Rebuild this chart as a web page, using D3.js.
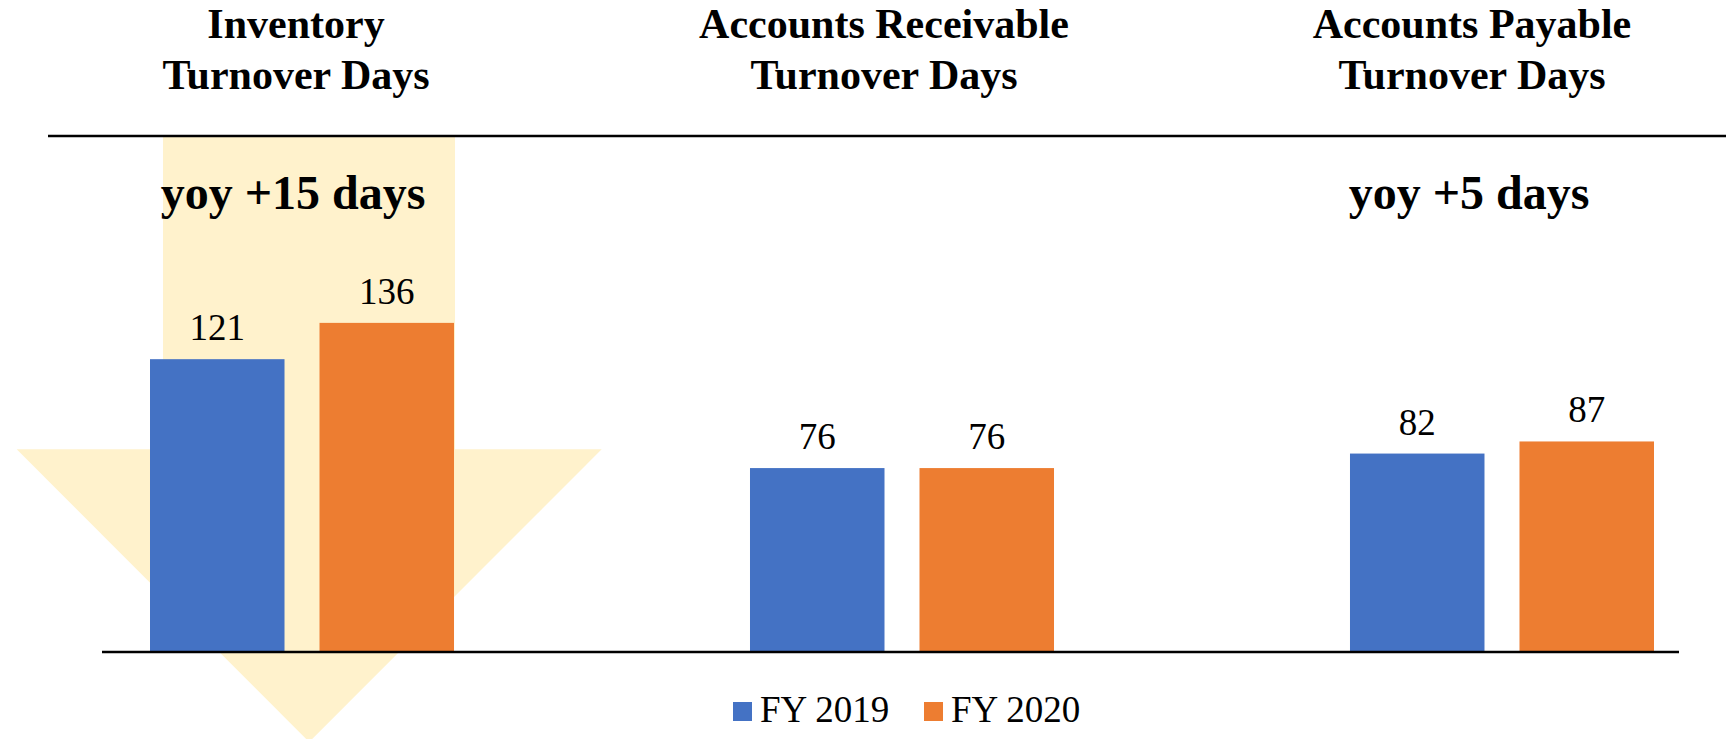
<!DOCTYPE html>
<html>
<head>
<meta charset="utf-8">
<script src="https://cdn.jsdelivr.net/npm/d3@7"></script>
<style>
  html, body { margin: 0; padding: 0; background: #fff; }
  svg { display: block; font-family: "Liberation Serif", "Times New Roman", serif; }
</style>
</head>
<body>
<div id="chart"></div>
<script>
// các nhóm chỉ tiêu và giá trị theo năm
const categories = ["Inventory", "Receivable", "Payable"];
const titleLines = [
  ["Inventory", "Turnover Days"],
  ["Accounts Receivable", "Turnover Days"],
  ["Accounts Payable", "Turnover Days"]
];
const seriesNames = ["FY 2019", "FY 2020"];
const fy2019 = [121, 76, 82];
const fy2020 = [136, 76, 87];
const yoyNotes = ["yoy +15 days", "", "yoy +5 days"];
const colors = ["#4472C4", "#ED7D31"];

(() => {
  const width = 1726, height = 739;
  const baseY = 652;

  const svg = d3.select("#chart").append("svg")
    .attr("width", width)
    .attr("height", height)
    .attr("viewBox", [0, 0, width, height]);

  const data = categories.map((c, i) => ({
    cat: c,
    values: [fy2019[i], fy2020[i]].map((v, j) => ({ s: seriesNames[j], v, j }))
  }));

  // scales
  const x0 = d3.scaleBand()
    .domain(categories)
    .range([150, 1654])
    .paddingInner(0.4933)
    .paddingOuter(0);

  const x1 = d3.scaleBand()
    .domain(seriesNames)
    .range([0, x0.bandwidth()])
    .paddingInner(0.2065)
    .paddingOuter(0);

  const y = d3.scaleLinear()
    .domain([0, 150])
    .range([baseY, baseY - 363]);

  const tx = d3.scalePoint()
    .domain(categories)
    .range([296, 1472]);

  // mũi tên nền vàng nhạt (chú thích)
  const arrow = svg.append("g").attr("fill", "#FFF2CC");
  arrow.append("rect")
    .attr("x", 163).attr("y", 137)
    .attr("width", 292).attr("height", 313);
  arrow.append("path")
    .attr("d", d3.line()([[16.7, 449.3], [601.7, 449.3], [309.2, 742]]) + "Z");

  // đường kẻ trên
  svg.append("line")
    .attr("x1", 48).attr("x2", width)
    .attr("y1", 136).attr("y2", 136)
    .attr("stroke", "#000").attr("stroke-width", 2.5);

  // tiêu đề từng nhóm
  const titles = svg.append("g")
    .attr("font-weight", "bold")
    .attr("font-size", 42)
    .attr("text-anchor", "middle");
  categories.forEach((c, i) => {
    titleLines[i].forEach((t, k) => {
      titles.append("text")
        .attr("x", tx(c))
        .attr("y", 38 + k * 51)
        .text(t);
    });
  });

  // ghi chú yoy
  svg.append("g")
    .attr("font-weight", "bold")
    .attr("font-size", 48)
    .attr("text-anchor", "middle")
    .selectAll("text")
    .data(categories.filter((c, i) => yoyNotes[i]))
    .join("text")
    .attr("x", c => tx(c) - 3)
    .attr("y", 209)
    .text(c => yoyNotes[categories.indexOf(c)]);

  // cột
  const groups = svg.append("g")
    .selectAll("g")
    .data(data)
    .join("g")
    .attr("transform", d => `translate(${x0(d.cat)},0)`);

  groups.selectAll("rect")
    .data(d => d.values)
    .join("rect")
    .attr("x", d => x1(d.s))
    .attr("y", d => y(d.v))
    .attr("width", x1.bandwidth())
    .attr("height", d => baseY - y(d.v))
    .attr("fill", d => colors[d.j]);

  groups.selectAll("text")
    .data(d => d.values)
    .join("text")
    .attr("x", d => x1(d.s) + x1.bandwidth() / 2)
    .attr("y", d => y(d.v) - 19)
    .attr("text-anchor", "middle")
    .attr("font-size", 37)
    .attr("fill", "#000")
    .text(d => d.v);

  // trục hoành
  svg.append("line")
    .attr("x1", 102).attr("x2", 1679)
    .attr("y1", baseY).attr("y2", baseY)
    .attr("stroke", "#000").attr("stroke-width", 2.5);

  // chú giải
  const legendX = [733, 924];
  const legend = svg.append("g")
    .selectAll("g")
    .data(seriesNames)
    .join("g")
    .attr("transform", (d, i) => `translate(${legendX[i]},702)`);
  legend.append("rect")
    .attr("width", 19).attr("height", 19)
    .attr("fill", (d, i) => colors[i]);
  legend.append("text")
    .attr("x", 27).attr("y", 20)
    .attr("font-size", 37)
    .text(d => d);
})();
</script>
</body>
</html>
